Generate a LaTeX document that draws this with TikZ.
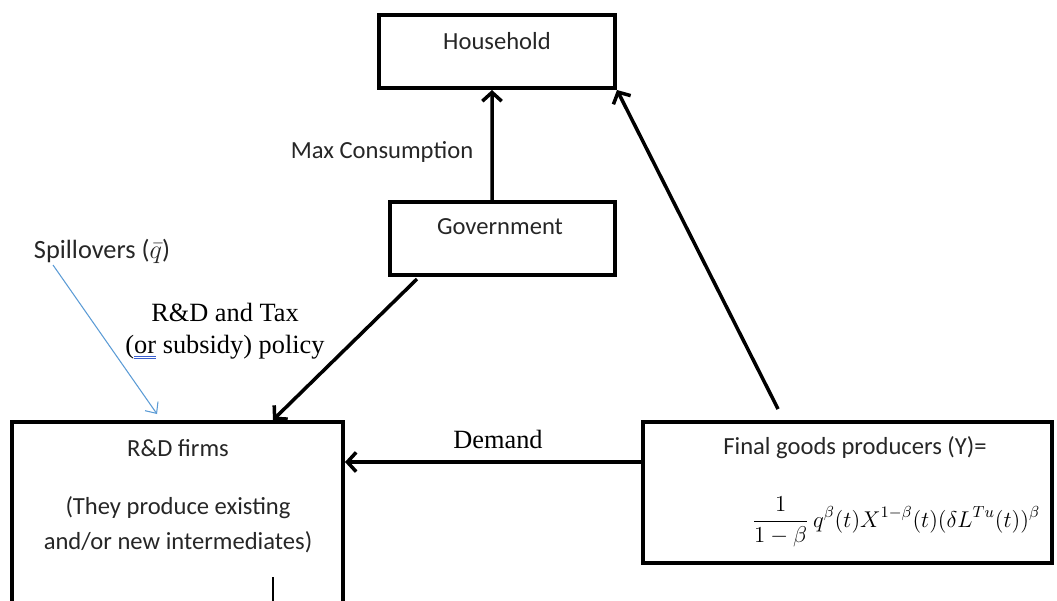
\RequirePackage{fix-cm}
\documentclass[tikz,border=0pt]{standalone}
\usepackage{fontspec}
\setmainfont{Carlito}
\newfontfamily\timesfont{Liberation Serif}
\usetikzlibrary{arrows.meta,positioning}

\definecolor{spillblue}{HTML}{5B9BD5}
\definecolor{ulblue}{HTML}{3A5FCD}
\definecolor{labelgray}{HTML}{262626}

% double spell-check underline
\newcommand\dblul[1]{\leavevmode\setbox0\hbox{#1}%
  \rlap{\color{ulblue}\rule[-2.0pt]{\wd0}{0.4pt}}%
  \rlap{\color{ulblue}\rule[-3.3pt]{\wd0}{0.4pt}}\box0\relax}

\tikzset{
  box/.style={draw, line width=2.3pt, rectangle, inner sep=0pt},
  boxtext/.style={text=labelgray, font=\fontsize{14}{17}\selectfont, align=center},
  seriftext/.style={font=\timesfont\fontsize{15}{18}\selectfont, align=center},
  flow/.style={line width=2pt, -{Straight Barb[length=5pt,width=11pt,line width=2pt]}},
  spill/.style={spillblue, line width=0.6pt, -{Straight Barb[length=5pt,width=9pt,line width=0.6pt]}}
}

\begin{document}
\begin{tikzpicture}[x=0.02cm,y=-0.02cm]

\useasboundingbox (0,0) rectangle (1057,601);
\clip (0,0) rectangle (1057,601);

% boxes
\node[box, minimum width=4.72cm, minimum height=1.46cm] (household) at (497,51.5) {};
\node[box, minimum width=4.5cm, minimum height=1.46cm] (government) at (502.5,238.5) {};
\node[box, minimum width=6.62cm, minimum height=3.96cm] (rdfirms) at (177.5,521) {};
\node[box, minimum width=8.18cm, minimum height=2.82cm] (final) at (847.5,492.5) {};

% texts in boxes
\node[boxtext] (householdtext) at (497,41) {Household};
\node[boxtext] (governmenttext) at (500,227) {Government};
\node[boxtext] (rdtitle) at (178,448) {R\&D firms};
\node[boxtext, font=\fontsize{14}{19.8}\selectfont] (rdnote) at (178,525) {(They produce existing\\and/or new intermediates)};
\node[boxtext] (finaltitle) at (855,448) {Final goods producers (Y)=};
\node (formula) at (896,522) {\fontsize{13}{16}\selectfont
  $\displaystyle\frac{1}{1-\beta}\,q^{\beta}(t)X^{1-\beta}(t)(\delta L^{Tu}(t))^{\beta}$};
\draw[line width=0.6pt] (273,577) -- (273,620);

% labels
\node[boxtext] (maxcons) at (382,152) {Max Consumption};
\node[boxtext, font=\fontsize{15}{18}\selectfont] (spilltext) at (102,251) {Spillovers ($\bar{q}$)};
\node[seriftext] (policy) at (225,331) {\timesfont R\&D and Tax\\\timesfont(\dblul{or} subsidy) policy};
\node[seriftext] (demand) at (498,439) {Demand};

% connectors
\draw[flow] ([xshift=-0.21cm]government.north) -- ([xshift=-0.1cm]household.south);
\draw[flow] ([xshift=-1.39cm,yshift=0.22cm]final.north) -- (household.south east);
\draw[flow] ([xshift=0.58cm,yshift=-0.04cm]government.south west) -- ([xshift=1.91cm]rdfirms.north);
\coordinate (demandstart) at ([yshift=0.61cm]final.west);
\draw[flow] (demandstart) -- (demandstart -| rdfirms.east);
\coordinate (spillstart) at (53,265);
\draw[spill] (spillstart) -- ([xshift=-0.41cm,yshift=0.12cm]rdfirms.north);

\end{tikzpicture}
\end{document}
